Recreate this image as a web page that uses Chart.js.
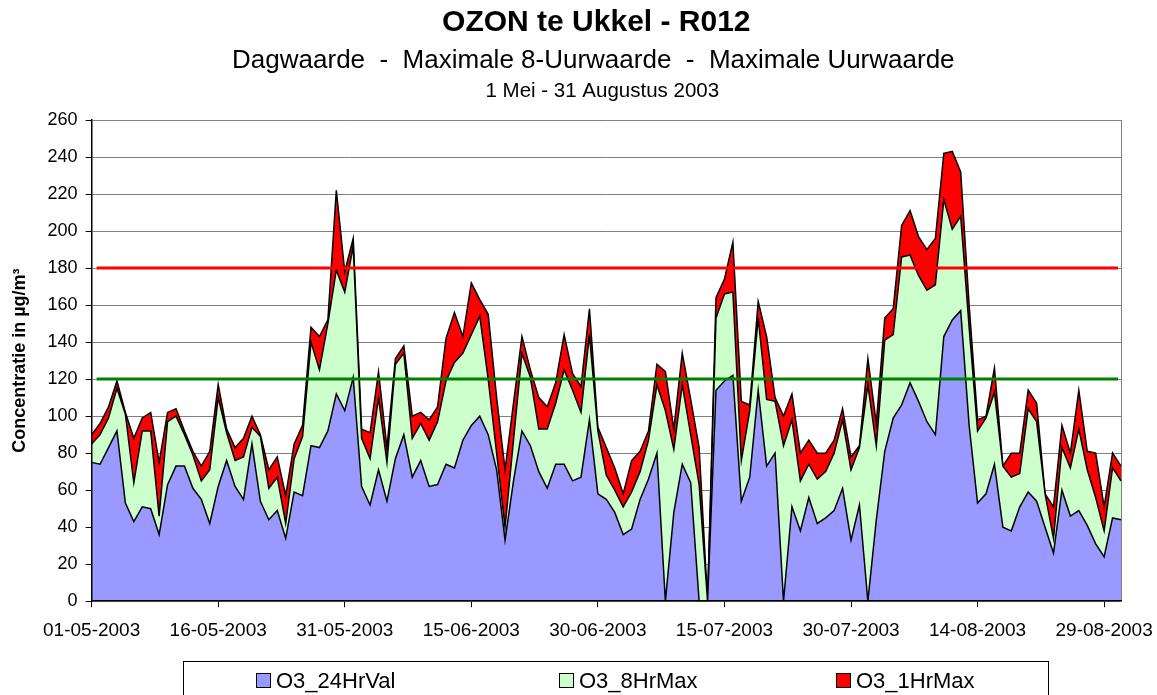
<!DOCTYPE html>
<html>
<head>
<meta charset="utf-8">
<title>OZON te Ukkel - R012</title>
<script src="https://cdn.jsdelivr.net/npm/chart.js"></script>
<style>
  html, body { margin: 0; padding: 0; background: #fff; overflow: hidden; }
  #wrap { position: relative; width: 1157px; height: 695px; }
  #legend { position: absolute; left: 183px; top: 661px; width: 866px; height: 50px; border: 1px solid #000; box-sizing: border-box;
            font-family: "Liberation Sans", Arial, sans-serif; font-size: 22px; color: #000; }
  #legend .item { position: absolute; top: 6px; height: 25px; line-height: 25px; display: flex; align-items: center; white-space: nowrap; }
  #legend .swatch { width: 15px; height: 15px; box-sizing: border-box; border: 1px solid #000; margin-right: 5px; }
</style>
</head>
<body>
<div id="wrap">
  <canvas id="ozoneChart" width="1157" height="695"></canvas>
  <div id="legend"></div>
</div>
<script>
// Ukkel R012, daily ozone values 1 May - 31 Aug 2003 (µg/m³)
const titleLines = ['OZON te Ukkel - R012', 'Dagwaarde  -  Maximale 8-Uurwaarde  -  Maximale Uurwaarde', '1 Mei - 31 Augustus 2003'];

const days = [];
for (let d = new Date(2003, 4, 1); d <= new Date(2003, 7, 31); d.setDate(d.getDate() + 1)) {
  const dd = String(d.getDate()).padStart(2, '0');
  const mm = String(d.getMonth() + 1).padStart(2, '0');
  days.push(dd + '-' + mm + '-' + d.getFullYear());
}

const o3_24HrVal = [
  75, 74, 83, 92, 53, 43, 51, 50, 36, 63, 73, 73, 61, 55, 42,
  62, 76, 62, 55, 85, 54, 44, 49, 34, 59, 57, 84, 83, 92, 112,
  103, 121, 62, 52, 71, 54, 77, 90, 67, 76, 62, 63, 74, 72, 87,
  95, 100, 90, 71, 33, 65, 92, 84, 70, 61, 74, 74, 65, 67, 98,
  58, 55, 48, 36, 39, 55, 66, 80, 0, 48, 74, 64, 0, 0, 114,
  119, 122, 54, 67, 114, 73, 80, 0, 51, 38, 56, 42, 45, 49, 61,
  33, 52, 0, 44, 81, 99, 106, 118, 108, 97, 90, 143, 152, 157, 95,
  53, 58, 74, 40, 38, 51, 59, 54, 40, 26, 60, 46, 49, 41, 31,
  24, 45, 44
];
const o3_8HrMax = [
  85, 90, 99, 115, 101, 64, 92, 92, 46, 97, 100, 90, 79, 65, 71,
  110, 91, 76, 78, 94, 89, 61, 67, 42, 77, 89, 140, 125, 150, 179,
  167, 192, 88, 77, 110, 75, 128, 134, 88, 96, 87, 97, 119, 129, 134,
  144, 154, 120, 80, 40, 87, 134, 121, 93, 93, 107, 125, 114, 102, 144,
  92, 68, 60, 51, 59, 70, 87, 117, 103, 82, 117, 90, 63, 0, 153,
  166, 167, 76, 103, 153, 109, 108, 84, 98, 65, 74, 66, 70, 80, 98,
  71, 83, 117, 84, 141, 144, 186, 187, 176, 168, 171, 217, 201, 208, 148,
  92, 99, 113, 73, 67, 69, 104, 97, 58, 34, 83, 72, 93, 71, 56,
  38, 72, 65
];
const o3_1HrMax = [
  90, 96, 105, 119, 102, 88, 99, 102, 75, 102, 104, 92, 81, 73, 81,
  117, 93, 83, 88, 100, 90, 71, 78, 57, 85, 95, 148, 143, 152, 222,
  178, 196, 93, 91, 124, 83, 131, 138, 100, 102, 98, 105, 142, 156, 143,
  172, 163, 155, 110, 71, 107, 143, 125, 110, 105, 118, 144, 123, 116, 158,
  94, 83, 72, 58, 76, 81, 92, 128, 124, 93, 134, 109, 83, 0, 164,
  174, 194, 108, 106, 162, 143, 110, 100, 112, 80, 87, 80, 80, 87, 104,
  78, 84, 131, 96, 153, 158, 203, 211, 197, 190, 196, 242, 243, 232, 160,
  98, 100, 126, 73, 80, 80, 114, 107, 58, 51, 95, 80, 114, 81, 80,
  51, 80, 73
];

// limit values drawn as horizontal lines
const limitValues = [180, 120];
const limitColors = ['#FF0000', '#008000'];

Chart.defaults.font.family = '"Liberation Sans", Arial, sans-serif';
Chart.defaults.color = '#000';

const headings = {
  id: 'headings',
  afterDraw(chart) {
    const ctx = chart.ctx;
    const cx = (chart.chartArea.left + chart.chartArea.right) / 2 - 10;
    ctx.save();
    ctx.fillStyle = '#000';
    ctx.textAlign = 'center';
    ctx.textBaseline = 'alphabetic';
    ctx.font = 'bold 30px "Liberation Sans", Arial, sans-serif';
    ctx.fillText(titleLines[0], cx, 31);
    ctx.font = '26px "Liberation Sans", Arial, sans-serif';
    ctx.fillText(titleLines[1], cx - 3, 68);
    ctx.font = '20.5px "Liberation Sans", Arial, sans-serif';
    ctx.fillText(titleLines[2], cx + 6, 97);
    ctx.restore();
  }
};

const limitLines = {
  id: 'limitLines',
  afterDatasetsDraw(chart) {
    const { ctx, chartArea, scales } = chart;
    ctx.save();
    ctx.lineWidth = 3;
    limitValues.forEach((v, k) => {
      const py = scales.y.getPixelForValue(v);
      ctx.strokeStyle = limitColors[k];
      ctx.beginPath();
      ctx.moveTo(chartArea.left + 5, py);
      ctx.lineTo(chartArea.right - 3, py);
      ctx.stroke();
    });
    ctx.restore();
  }
};

const lastIdx = days.length - 1;

const chart = new Chart(document.getElementById('ozoneChart'), {
  type: 'line',
  data: {
    labels: days,
    datasets: [
      { label: 'O3_24HrVal', data: o3_24HrVal, backgroundColor: '#9999FF', borderColor: '#000', fill: 'origin', order: 1 },
      { label: 'O3_8HrMax', data: o3_8HrMax, backgroundColor: '#CCFFCC', borderColor: '#000', fill: 'origin', order: 2 },
      { label: 'O3_1HrMax', data: o3_1HrMax, backgroundColor: '#FF0000', borderColor: '#000', fill: 'origin', order: 3 }
    ]
  },
  options: {
    responsive: false,
    animation: false,
    layout: { padding: { top: 120, right: 36, bottom: 41, left: 0 } },
    elements: {
      line: { borderWidth: 1.5, tension: 0 },
      point: { radius: 0, hoverRadius: 0 }
    },
    scales: {
      x: {
        offset: false,
        grid: {
          drawOnChartArea: true,
          color: ctx => (ctx.index === lastIdx ? '#808080' : 'transparent'),
          tickColor: ctx => (ctx.index % 15 === 0 ? '#000' : 'transparent'),
          tickLength: 6
        },
        border: { color: '#000', width: 1.5, z: 1 },
        ticks: {
          autoSkip: false,
          maxRotation: 0,
          minRotation: 0,
          padding: 12,
          font: { size: 19 },
          callback: (v, i) => (i % 15 === 0 ? days[i] : '')
        }
      },
      y: {
        min: 0,
        max: 260,
        grid: { color: '#808080', tickColor: '#000', tickLength: 6 },
        border: { color: '#000', width: 1.5, z: 1 },
        ticks: { stepSize: 20, padding: 8, font: { size: 18 } },
        title: {
          display: true,
          text: 'Concentratie in µg/m³',
          font: { size: 18, weight: 'bold' },
          padding: { top: 9, bottom: 9 }
        }
      }
    },
    plugins: {
      legend: { display: false },
      tooltip: { enabled: false }
    }
  },
  plugins: [headings, limitLines]
});

// boxed legend below the chart, built from the chart's own legend items
const legendSlots = [72, 375, 652];
const legendBox = document.getElementById('legend');
chart.options.plugins.legend.labels.generateLabels(chart).forEach((item, k) => {
  const el = document.createElement('div');
  el.className = 'item';
  el.style.left = legendSlots[k] + 'px';
  const sw = document.createElement('span');
  sw.className = 'swatch';
  sw.style.background = item.fillStyle;
  const tx = document.createElement('span');
  tx.textContent = item.text;
  el.appendChild(sw);
  el.appendChild(tx);
  legendBox.appendChild(el);
});
</script>
</body>
</html>
